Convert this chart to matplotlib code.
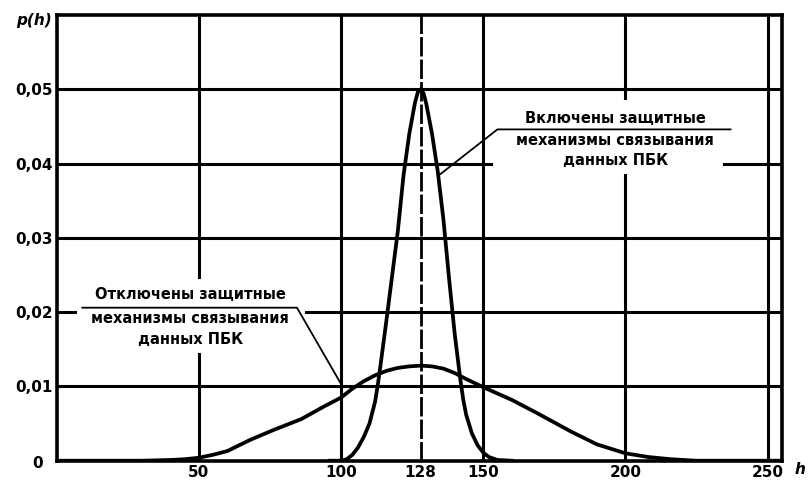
import numpy as np
import matplotlib
matplotlib.use('Agg')
import matplotlib.pyplot as plt
from matplotlib.patches import Rectangle

plt.rcParams['font.family'] = ['DejaVu Sans']
plt.rcParams['lines.scale_dashes'] = False

# narrow curve: protection mechanisms on
h_on = [96, 100, 102, 104, 106, 108, 110, 112, 113, 114, 116, 118, 120, 122, 124, 126, 127,
        128, 129, 130, 132, 134, 136, 138, 140, 142, 143, 144, 146, 148, 150, 152, 155, 160]
p_on = [0, 0, 0.0002, 0.0008, 0.0018, 0.0032, 0.0050, 0.0080, 0.0104, 0.0132, 0.0190,
        0.0250, 0.0310, 0.0385, 0.0440, 0.0482, 0.0496, 0.0500, 0.0495, 0.0480, 0.0440,
        0.0390, 0.0325, 0.0245, 0.0170, 0.0108, 0.0082, 0.0062, 0.0037, 0.0021, 0.0011,
        0.0005, 0.0001, 0]

# wide curve: protection mechanisms off
h_off = [0, 30, 40, 45, 50, 55, 60, 68, 76, 86, 94, 100, 104, 108, 112, 116, 120, 124, 128,
         132, 136, 140, 144, 150, 160, 169, 181, 190, 200, 208, 216, 225, 255]
p_off = [0, 0, 0.0001, 0.0002, 0.0004, 0.0008, 0.0013, 0.0028, 0.0041, 0.0056, 0.0073,
         0.0085, 0.0097, 0.0107, 0.0115, 0.0121, 0.0125, 0.0127, 0.0128, 0.0127, 0.0124,
         0.0118, 0.0110, 0.0099, 0.0082, 0.0064, 0.0039, 0.0022, 0.0010, 0.0005, 0.0002,
         0, 0]

x_ticks = [50, 100, 128, 150, 200, 250]
x_labels = ['50', '100', '128', '150', '200', '250']
y_ticks = [0.01, 0.02, 0.03, 0.04, 0.05]
y_labels = ['0,01', '0,02', '0,03', '0,04', '0,05']

label_on = ['Включены защитные', 'механизмы связывания', 'данных ПБК']
label_off = ['Отключены защитные', 'механизмы связывания', 'данных ПБК']

fig = plt.figure(figsize=(8.08, 4.84), dpi=100)
ax = fig.add_axes([0.0702, 0.0481, 0.8973, 0.9209])
ax.set_xlim(0, 255)
ax.set_ylim(0, 0.06)

# grid
for x in x_ticks:
    if x == 128:
        ax.axvline(x, color='black', lw=2.0, ls=(0, (14, 2.2)), zorder=1)
    else:
        ax.axvline(x, color='black', lw=2.2, zorder=1)
for y in y_ticks:
    ax.axhline(y, color='black', lw=2.2, zorder=1)

ax.set_xticks(x_ticks)
ax.set_xticklabels(x_labels)
ax.set_yticks(y_ticks)
ax.set_yticklabels(y_labels)
ax.tick_params(length=0, labelsize=11, pad=3)
for t in ax.get_xticklabels() + ax.get_yticklabels():
    t.set_fontweight('bold')
for s in ax.spines.values():
    s.set_linewidth(2.6)

# white boxes under the labels
ax.add_patch(Rectangle((153.6, 0.0386), 80.7, 0.0100, facecolor='white',
                       edgecolor='none', zorder=2))
ax.add_patch(Rectangle((7.0, 0.01455), 80.4, 0.00985, facecolor='white',
                       edgecolor='none', zorder=2))

ax.plot(h_off, p_off, color='black', lw=2.7, zorder=3, solid_joinstyle='round')
ax.plot(h_on, p_on, color='black', lw=2.7, zorder=3, solid_joinstyle='round')

# label: on
for txt, y in zip(label_on, [0.0461, 0.0431, 0.0404]):
    ax.text(196.5, y, txt, ha='center', va='center', fontsize=10.5,
            fontweight='bold', zorder=4)
ax.plot([135, 155, 237], [0.0386, 0.0446, 0.0446], color='black', lw=1.3, zorder=4)

# label: off
for txt, y in zip(label_off, [0.0224, 0.0191, 0.0163]):
    ax.text(47, y, txt, ha='center', va='center', fontsize=10.5,
            fontweight='bold', zorder=4)
ax.plot([9, 84.5, 100.5], [0.0206, 0.0206, 0.0100], color='black', lw=1.3, zorder=4)

fig.text(38 / 808, 1 - 463 / 484, '0', ha='center', va='center', fontsize=11,
         fontweight='bold')
fig.text(52 / 808, 1 - 20 / 484, 'p(h)', ha='right', va='center', fontsize=11,
         fontweight='bold', style='italic')
fig.text(800 / 808, 1 - 470 / 484, 'h', ha='center', va='center', fontsize=11,
         fontweight='bold', style='italic')

fig.savefig('out.png', dpi=100)
